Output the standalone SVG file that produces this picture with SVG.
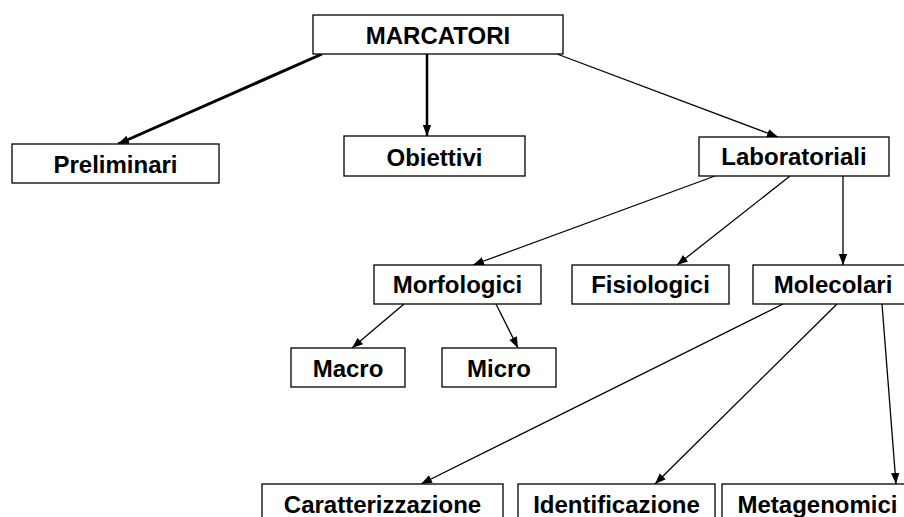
<svg xmlns="http://www.w3.org/2000/svg" width="904" height="517" viewBox="0 0 904 517">
<style>
.box{fill:#fff;stroke:#000;stroke-width:1.3}
.t{font-family:"Liberation Sans",Arial,sans-serif;font-weight:bold;font-size:24px;fill:#000;text-anchor:middle}
.c{stroke:#000;fill:none;stroke-width:1.3}
.thick{stroke-width:3}
.med{stroke-width:2.5}
</style>
<defs>
<marker id="ah" markerUnits="userSpaceOnUse" markerWidth="12" markerHeight="10" refX="11" refY="5" orient="auto">
<path d="M0,0.8 L11,5 L0,9.2 Z" fill="#000"/>
</marker>
</defs>
<rect width="904" height="517" fill="#fff"/>
<g id="connectors">
<line class="c thick" x1="322" y1="54" x2="118" y2="144" marker-end="url(#ah)"/>
<line class="c med" x1="427" y1="54" x2="427" y2="136" marker-end="url(#ah)"/>
<line class="c" x1="557" y1="54" x2="778" y2="137" marker-end="url(#ah)"/>
<line class="c" x1="715" y1="176" x2="473" y2="265" marker-end="url(#ah)"/>
<line class="c" x1="790" y1="176" x2="677" y2="265" marker-end="url(#ah)"/>
<line class="c" x1="843" y1="176" x2="843" y2="265" marker-end="url(#ah)"/>
<line class="c" x1="404" y1="304" x2="352" y2="348" marker-end="url(#ah)"/>
<line class="c" x1="496" y1="304" x2="518" y2="348" marker-end="url(#ah)"/>
<line class="c" x1="783" y1="304" x2="421" y2="484" marker-end="url(#ah)"/>
<line class="c" x1="837" y1="304" x2="655" y2="484" marker-end="url(#ah)"/>
<line class="c" x1="882" y1="304" x2="896" y2="484" marker-end="url(#ah)"/>
</g>
<g id="marcatori"><rect class="box" x="313" y="15" width="250" height="39"/><text class="t" x="438" y="44">MARCATORI</text></g>
<g id="preliminari"><rect class="box" x="12" y="144" width="207" height="39"/><text class="t" x="115.5" y="173">Preliminari</text></g>
<g id="obiettivi"><rect class="box" x="344" y="136" width="181" height="40"/><text class="t" x="434.5" y="166">Obiettivi</text></g>
<g id="laboratoriali"><rect class="box" x="699" y="137" width="190" height="39"/><text class="t" x="794" y="165">Laboratoriali</text></g>
<g id="morfologici"><rect class="box" x="374" y="265" width="167" height="39"/><text class="t" x="457.5" y="293">Morfologici</text></g>
<g id="fisiologici"><rect class="box" x="572" y="265" width="157" height="39"/><text class="t" x="650.5" y="293">Fisiologici</text></g>
<g id="molecolari"><rect class="box" x="753" y="265" width="160" height="39"/><text class="t" x="833" y="293">Molecolari</text></g>
<g id="macro"><rect class="box" x="291" y="348" width="114" height="39"/><text class="t" x="348" y="377">Macro</text></g>
<g id="micro"><rect class="box" x="442" y="348" width="114" height="39"/><text class="t" x="499" y="377">Micro</text></g>
<g id="caratterizzazione"><rect class="box" x="262" y="484" width="241" height="40"/><text class="t" x="382.5" y="513">Caratterizzazione</text></g>
<g id="identificazione"><rect class="box" x="518" y="484" width="197" height="40"/><text class="t" x="616.5" y="513">Identificazione</text></g>
<g id="metagenomici"><rect class="box" x="722" y="484" width="191" height="40"/><text class="t" x="817.5" y="513">Metagenomici</text></g>
</svg>
